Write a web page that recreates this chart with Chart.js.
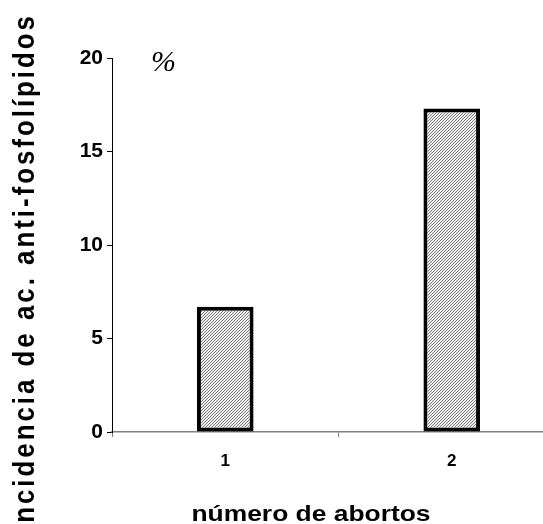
<!DOCTYPE html>
<html>
<head>
<meta charset="utf-8">
<script src="https://cdn.jsdelivr.net/npm/chart.js@4"></script>
<style>
	html, body { margin: 0; padding: 0; background: #fff; overflow: hidden; }
	#wrap { width: 543px; height: 524px; overflow: hidden; }
</style>
</head>
<body>
<div id="wrap"><canvas id="my-chart" width="565" height="524"></canvas></div>
<script>

//==========
// Data

const categories = ["1", "2"];
const values = [6.7, 17.3];
const yTicks = [0, 5, 10, 15, 20];
const yTitle = "incidencia de ac. anti-fosfolípidos";
const xTitle = "número de abortos";
const unitLabel = "%";

//==========
// Pattern

function makeHatch(){
	const c = document.createElement("canvas");
	c.width = 3;
	c.height = 3;
	const g = c.getContext("2d");
	g.fillStyle = "#ededed";
	g.fillRect(0, 0, 3, 3);
	g.fillStyle = "#808080";
	g.fillRect(2, 0, 1, 1);// diagonal "/"
	g.fillRect(1, 1, 1, 1);
	g.fillRect(0, 2, 1, 1);
	return g.createPattern(c, "repeat");
}

//==========
// Titles

const titlePlugin = {
	id: "titles",
	afterDraw(chart){
		const ctx = chart.ctx;
		ctx.save();
		ctx.fillStyle = "#000";

		// y title, rotated, letter spaced
		ctx.save();
		ctx.font = "bold 26px 'Liberation Sans', Arial, sans-serif";
		ctx.letterSpacing = "3px";
		const w = ctx.measureText(yTitle).width;
		ctx.translate(34, 273);
		ctx.rotate(-Math.PI / 2);
		ctx.scale(520 / w, 1.15);
		ctx.textAlign = "center";
		ctx.textBaseline = "alphabetic";
		ctx.fillText(yTitle, 0, 0);
		ctx.restore();

		// x title
		ctx.save();
		ctx.font = "bold 22px 'Liberation Sans', Arial, sans-serif";
		ctx.translate(311, 521);
		ctx.scale(1.2, 1);
		ctx.textAlign = "center";
		ctx.textBaseline = "alphabetic";
		ctx.fillText(xTitle, 0, 0);
		ctx.restore();

		// unit
		ctx.font = "italic 30px 'Liberation Serif', 'Times New Roman', serif";
		ctx.textAlign = "left";
		ctx.textBaseline = "alphabetic";
		ctx.fillText(unitLabel, 151, 71);
		ctx.restore();
	}
};

//==========
// Chart

function showChart(){
	const ctx = document.getElementById("my-chart").getContext("2d");
	const family = "'Liberation Sans', Arial, sans-serif";
	new Chart(ctx, {
		type: "bar",
		data: {
			labels: categories,
			datasets: [{
				data: values,
				backgroundColor: makeHatch(),
				borderColor: "#000",
				borderWidth: 4,
				borderSkipped: false,
				barPercentage: 0.25,
				categoryPercentage: 1.0
			}]
		},
		options: {
			responsive: false,
			animation: false,
			devicePixelRatio: 1,
			layout: {padding: {top: 58, left: 0, right: 0, bottom: 0}},
			plugins: {legend: {display: false}, tooltip: {enabled: false}},
			scales: {
				x: {
					grid: {
						offset: true,
						drawOnChartArea: false,
						drawTicks: true,
						tickLength: 5,
						color: "#808080"
					},
					border: {color: "#808080", width: 1.5},
					ticks: {
						color: "#000",
						font: {family: family, size: 17, weight: "bold"},
						padding: 14
					},
					afterFit(scale){ scale.height = 92; }
				},
				y: {
					min: 0,
					max: 20,
					afterBuildTicks(scale){
						scale.ticks = yTicks.map(v => ({value: v}));
					},
					grid: {
						drawOnChartArea: false,
						drawTicks: true,
						tickLength: 5,
						color: "#000"
					},
					border: {color: "#000", width: 1},
					ticks: {
						color: "#000",
						font: {family: family, size: 21, weight: "bold"},
						padding: 4
					},
					afterFit(scale){ scale.width = 112; }
				}
			}
		},
		plugins: [titlePlugin]
	});
}

showChart();
</script>
</body>
</html>
